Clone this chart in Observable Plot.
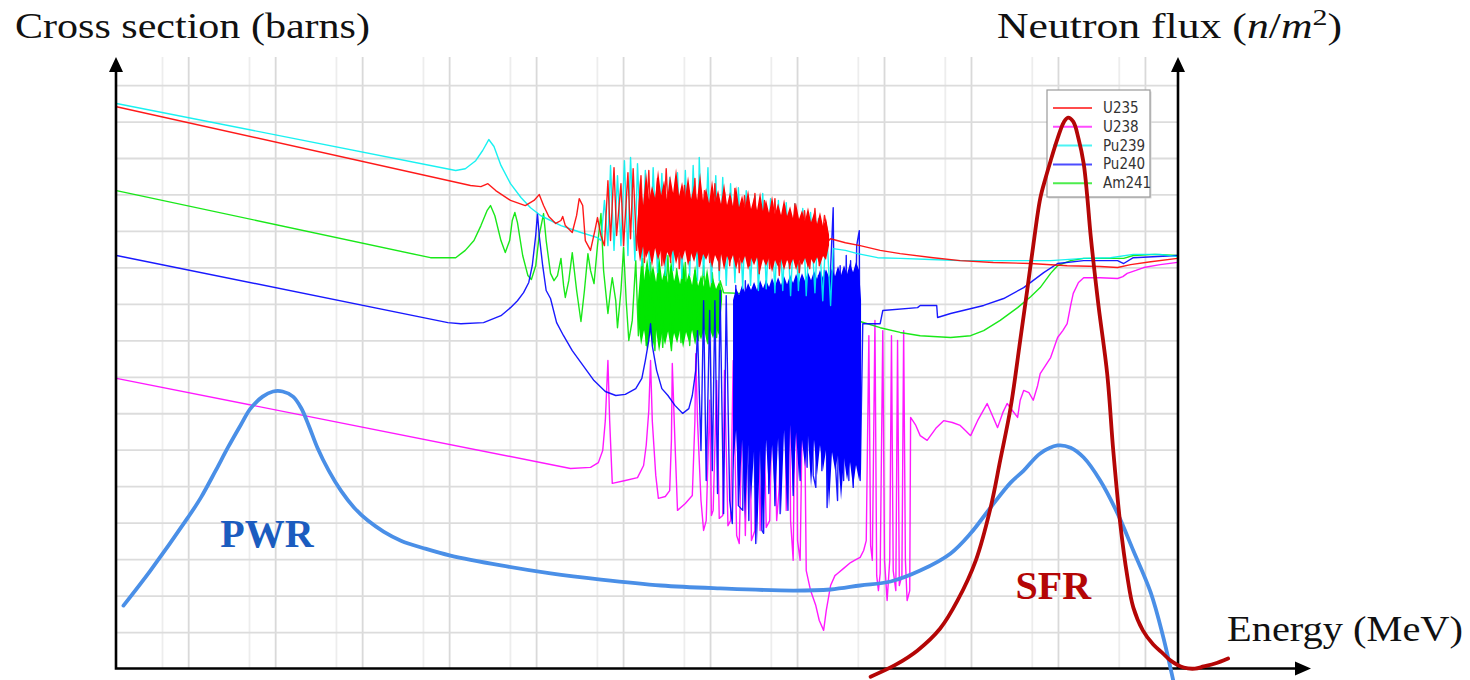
<!DOCTYPE html>
<html>
<head>
<meta charset="utf-8">
<script src="https://cdn.jsdelivr.net/npm/d3@7"></script>
<script src="https://cdn.jsdelivr.net/npm/@observablehq/plot@0.6"></script>
<style>
  html, body { margin: 0; padding: 0; background: #fff; }
  #chart svg { display: block; }
</style>
</head>
<body>
<div id="chart"></div>
<script>
// x values: log10(Energy / MeV); y values: relative cross-section / flux level (one unit per horizontal grid line)
const seriesNames = ["U235", "U238", "Pu239", "Pu240", "Am241"];

const u235 = [[-10.83,15.42],[-6.76,13.26],[-6.64,13.23],[-6.56,13.31],[-6.47,13.12],[-6.30,12.85],[-6.13,12.71],[-6.03,12.85],[-5.97,13.01],[-5.92,12.71],[-5.86,12.41],[-5.78,12.22],[-5.72,12.30],[-5.70,12.41],[-5.67,12.16],[-5.59,11.97],[-5.54,12.44],[-5.51,12.90],[-5.47,12.71],[-5.44,11.75],[-5.38,11.48],[-5.33,12.02],[-5.30,12.38],[-5.26,11.89],[-5.22,11.61],[-5.18,13.39],[-5.15,11.75],[-5.11,13.75],[-5.08,11.89],[-5.03,13.31],[-5.00,11.61],[-4.95,13.61],[-4.92,11.80],[-4.89,13.72],[-4.85,11.48],
[-4.80,13.53],[-4.76,11.15],[-4.71,13.67],[-4.67,11.26],[-4.61,13.45],[-4.56,11.06],[-4.51,13.72],[-4.46,11.15],[-4.40,13.39],[-4.36,10.98],[-4.30,13.26],[-4.24,11.20],[-4.18,13.45],[-4.13,11.04],[-4.07,13.12],[-4.01,11.15],[-3.95,13.31],[-3.90,10.93],[-3.84,13.07],[-3.78,11.06],[-3.72,13.18],[-3.67,10.87],[-3.61,12.98],[-3.55,11.06],[-3.49,13.04],[-3.44,10.84],[-3.38,12.85],[-3.32,10.98],[-3.26,12.90],[-3.21,10.79],[-3.15,12.71],[-3.09,10.98],[-3.03,12.76],[-2.98,10.87],[-2.92,12.57],[-2.86,10.98],[-2.80,12.63],[-2.75,11.06],[-2.69,12.44],[-2.64,11.75],
[-2.62,11.80],[-2.45,11.69],[-2.28,11.61],[-2.05,11.48],[-1.82,11.39],[-1.44,11.28],[-1.13,11.20],[-0.75,11.15],[-0.32,11.12],[0.10,11.06],[0.48,11.04],[0.68,11.01],[0.83,11.09],[1.06,11.17],[1.37,11.26]];
// resolved-resonance region: [logE, upper level, lower level]
const u235Band = [[-4.839,12.02,11.75],[-4.805,13.45,11.15],[-4.770,12.71,11.59],[-4.736,13.61,11.26],[-4.701,12.85,11.48],[-4.667,13.23,11.04],[-4.632,12.90,11.53],[-4.598,13.67,11.20],[-4.563,12.98,11.48],[-4.529,13.39,11.01],[-4.494,12.85,11.42],[-4.460,13.53,11.26],[-4.425,13.04,11.48],[-4.391,13.72,11.09],[-4.356,12.96,11.42],[-4.322,13.34,11.20],[-4.287,12.90,11.48],[-4.253,13.50,11.04],[-4.218,12.87,11.39],[-4.184,13.26,11.15],[-4.149,12.85,11.45],[-4.115,13.59,11.01],[-4.080,12.82,11.37],[-4.046,13.18,11.20],[-4.011,12.76,11.42],[-3.977,13.39,10.98],[-3.943,12.79,11.34],[-3.908,13.12,11.15],[-3.874,12.74,11.37],[-3.839,13.31,10.93],[-3.805,12.71,11.31],[-3.770,13.07,11.12],[-3.736,12.68,11.34],[-3.701,13.23,10.95],[-3.667,12.65,11.28],[-3.632,12.98,11.09],[-3.598,12.63,11.31],[-3.563,13.12,10.93],[-3.529,12.60,11.26],[-3.494,12.93,11.06],[-3.460,12.57,11.28],[-3.425,13.07,10.90],[-3.391,12.54,11.23],[-3.356,12.85,11.04],[-3.322,12.49,11.26],[-3.287,12.96,10.87],[-3.253,12.46,11.20],[-3.218,12.76,11.01],[-3.184,12.44,11.23],[-3.149,12.87,10.93],[-3.115,12.41,11.20],[-3.080,12.68,11.04],[-3.046,12.35,11.23],[-3.011,12.76,10.93],[-2.977,12.33,11.20],[-2.943,12.57,11.06],[-2.908,12.27,11.26],[-2.874,12.65,10.98],[-2.839,12.24,11.23],[-2.805,12.49,11.09],[-2.770,12.19,11.28],[-2.736,12.52,11.06],[-2.701,12.13,11.31],[-2.667,12.35,11.20],[-2.632,11.89,11.61]];

const pu239 = [[-10.83,15.51],[-6.93,13.67],[-6.82,13.72],[-6.70,13.94],[-6.62,14.22],[-6.55,14.52],[-6.49,14.33],[-6.41,13.81],[-6.30,13.31],[-6.18,12.93],[-6.07,12.65],[-5.95,12.43],[-5.72,12.16],[-5.49,11.97],[-5.30,11.83],
[-5.26,11.75],[-5.22,12.85],[-5.18,11.61],[-5.15,13.81],[-5.11,11.48],[-5.07,13.53],[-5.03,11.61],[-4.99,13.94],[-4.95,11.34],[-4.92,14.03],[-4.87,11.20],[-4.84,13.86],[-4.79,11.06],[-4.75,13.67],[-4.70,10.93],[-4.66,13.75],[-4.61,10.87],[-4.56,13.59],[-4.52,10.79],[-4.47,13.48],[-4.43,10.93],[-4.38,13.61],[-4.33,10.71],[-4.29,13.67],[-4.24,10.79],[-4.20,13.81],[-4.15,10.65],[-4.13,14.03],[-4.08,10.79],[-4.03,13.75],[-3.99,10.60],[-3.94,13.53],[-3.90,10.65],[-3.86,13.48],[-3.82,10.52],[-3.77,13.31],[-3.72,10.60],[-3.68,13.20],[-3.63,10.43],[-3.59,13.12],[-3.54,10.52],[-3.49,12.98],[-3.45,10.38],[-3.40,13.04],[-3.36,10.43],[-3.31,12.90],[-3.26,10.32],[-3.22,12.85],[-3.17,10.38],[-3.13,12.79],[-3.08,10.24],[-3.03,12.76],[-2.99,10.38],[-2.94,12.63],[-2.90,10.24],[-2.85,12.52],[-2.80,10.32],[-2.76,12.35],[-2.71,10.10],[-2.67,12.24],[-2.62,9.97],[-2.59,11.53],
[-2.45,11.48],[-2.31,11.39],[-2.08,11.28],[-1.82,11.26],[-1.47,11.23],[-1.13,11.20],[-0.67,11.20],[-0.09,11.20],[0.29,11.26],[0.60,11.28],[0.86,11.37],[1.17,11.37],[1.37,11.31]];

const am241 = [[-10.83,13.12],[-7.22,11.28],[-6.93,11.28],[-6.82,11.48],[-6.72,11.75],[-6.64,12.16],[-6.57,12.57],[-6.53,12.71],[-6.48,12.43],[-6.41,11.75],[-6.36,11.42],[-6.31,11.75],[-6.28,12.30],[-6.25,12.52],[-6.22,12.24],[-6.16,11.34],[-6.10,10.79],[-6.06,10.68],[-6.01,11.06],[-5.97,11.89],[-5.92,12.49],[-5.89,11.75],[-5.84,10.85],[-5.80,10.65],[-5.76,10.79],[-5.72,11.26],[-5.69,10.52],[-5.67,10.19],[-5.63,10.65],[-5.59,11.42],[-5.54,10.38],[-5.49,9.53],[-5.45,10.38],[-5.41,11.39],[-5.38,10.93],[-5.34,10.57],[-5.30,11.61],[-5.26,12.49],[-5.23,10.93],[-5.18,9.75],[-5.15,10.38],[-5.13,10.73],[-5.09,10.10],[-5.07,9.36],[-5.03,10.38],[-5.00,11.56],[-4.97,10.10],[-4.94,9.01],[-4.90,9.56],[-4.86,11.20],[-4.83,9.14],
[-4.78,11.26],[-4.74,8.87],[-4.69,11.15],[-4.64,8.73],[-4.60,11.06],[-4.55,8.82],[-4.49,11.34],[-4.45,8.73],[-4.39,10.98],[-4.34,8.95],[-4.29,11.15],[-4.24,8.87],[-4.18,10.93],[-4.14,9.01],[-4.08,11.06],[-4.03,8.92],[-3.98,10.87],[-3.93,9.09],[-3.89,10.65],[-3.85,10.32],
[-3.66,10.30],[-3.43,10.19],[-3.20,10.05],[-2.97,9.94],[-2.74,9.80],[-2.51,9.67],[-2.28,9.53],[-2.05,9.36],[-1.82,9.23],[-1.59,9.14],[-1.24,9.09],[-1.01,9.14],[-0.86,9.28],[-0.67,9.56],[-0.47,9.91],[-0.32,10.21],[-0.21,10.46],[-0.09,10.85],[-0.01,11.06],[0.14,11.20],[0.29,11.26],[0.75,11.26],[0.86,11.34],[1.11,11.37],[1.37,11.34]];
const am241Band = [[-4.828,10.10,9.56],[-4.793,11.15,8.87],[-4.759,10.65,9.28],[-4.724,11.26,8.73],[-4.690,10.71,9.23],[-4.655,11.06,8.82],[-4.621,10.60,9.28],[-4.586,11.34,8.68],[-4.552,10.65,9.20],[-4.517,10.98,8.87],[-4.483,10.57,9.25],[-4.448,11.20,8.73],[-4.414,10.63,9.20],[-4.379,10.93,8.92],[-4.345,10.54,9.28],[-4.310,11.15,8.79],[-4.276,10.57,9.23],[-4.241,10.87,8.95],[-4.207,10.52,9.28],[-4.172,11.06,8.87],[-4.138,10.49,9.25],[-4.103,10.79,9.01],[-4.069,10.46,9.31],[-4.034,10.98,8.90],[-4.000,10.43,9.28],[-3.966,10.71,9.06],[-3.931,10.41,9.34],[-3.897,10.60,9.14],[-3.862,10.35,10.10]];

const pu240 = [[-10.83,11.34],[-7.02,9.50],[-6.87,9.47],[-6.61,9.50],[-6.41,9.69],[-6.30,9.91],[-6.22,10.10],[-6.15,10.32],[-6.09,10.60],[-6.05,11.06],[-6.01,11.89],[-5.99,12.49],[-5.97,11.89],[-5.93,11.06],[-5.89,10.38],[-5.84,10.16],[-5.77,9.50],[-5.69,9.14],[-5.59,8.73],[-5.49,8.40],[-5.34,7.91],[-5.21,7.61],[-5.09,7.50],[-4.98,7.53],[-4.86,7.69],[-4.79,7.97],[-4.75,8.46],[-4.71,9.01],[-4.69,9.47],[-4.67,8.87],[-4.62,8.19],[-4.56,7.69],[-4.49,7.50],[-4.41,7.23],[-4.32,7.01],[-4.25,7.14],[-4.21,7.50],[-4.17,8.19],[-4.15,9.28],
[-4.11,5.99],[-4.08,10.10],[-4.05,5.17],[-4.01,9.83],[-3.98,5.44],[-3.95,10.10],[-3.92,4.81],[-3.89,10.38],[-3.85,4.26],[-3.82,10.24],[-3.78,4.62],[-3.75,3.99],[-3.71,10.52],[-3.68,4.48],[-3.63,4.35],[-3.60,10.65],[-3.56,4.07],[-3.53,10.38],[-3.48,3.44],[-3.45,10.52],[-3.41,3.80],[-3.39,3.72],[-3.36,10.65],[-3.33,4.81],[-3.30,10.38],[-3.26,4.48],[-3.23,10.52],[-3.20,4.26],[-3.16,10.65],[-3.11,4.35],[-3.08,10.38],[-3.05,4.76],[-3.00,10.71],[-2.97,5.17],[-2.93,10.52],[-2.89,5.53],[-2.85,10.65],[-2.82,5.31],[-2.79,4.98],[-2.76,10.79],[-2.72,5.44],[-2.69,10.93],[-2.66,4.43],[-2.62,10.98],[-2.59,12.65],[-2.56,5.44],[-2.54,4.62],[-2.51,11.06],[-2.47,5.17],[-2.44,11.34],[-2.41,5.17],[-2.39,11.20],[-2.36,4.98],[-2.32,11.61],[-2.29,12.02],[-2.28,5.17],[-2.25,9.47],
[-2.05,9.47],[-2.02,9.83],[-1.62,9.91],[-1.59,9.97],[-1.40,9.97],[-1.39,9.64],[-1.24,9.75],[-0.86,9.97],[-0.63,10.16],[-0.40,10.46],[-0.17,10.87],[-0.01,11.12],[0.29,11.20],[0.68,11.20],[0.75,11.12],[0.86,11.28],[1.37,11.34]];
const pu240Band = [[-3.736,10.10,5.44],[-3.701,10.43,6.54],[-3.667,10.24,4.48],[-3.632,10.52,6.27],[-3.598,10.32,4.07],[-3.563,10.57,6.13],[-3.529,10.38,4.62],[-3.494,10.60,5.99],[-3.460,10.38,3.44],[-3.425,10.65,6.05],[-3.391,10.43,3.72],[-3.356,10.65,6.27],[-3.322,10.46,4.81],[-3.287,10.71,6.13],[-3.253,10.49,4.48],[-3.218,10.73,6.32],[-3.184,10.52,4.26],[-3.149,10.76,6.54],[-3.115,10.54,4.35],[-3.080,10.79,6.68],[-3.046,10.57,4.76],[-3.011,10.82,6.48],[-2.977,10.60,5.17],[-2.943,10.84,6.27],[-2.908,10.63,5.53],[-2.874,10.87,6.40],[-2.839,10.65,4.98],[-2.805,10.90,6.27],[-2.770,10.68,5.31],[-2.736,10.93,6.13],[-2.701,10.71,5.44],[-2.667,10.95,5.99],[-2.632,10.73,4.43],[-2.598,10.98,5.94],[-2.563,10.76,5.44],[-2.529,11.04,5.85],[-2.494,10.79,4.62],[-2.460,11.06,5.77],[-2.425,10.82,5.17],[-2.391,11.12,5.66],[-2.356,10.87,4.98],[-2.322,11.15,5.58],[-2.287,10.93,5.17],[-2.264,10.10,5.44]];

const u238 = [[-10.83,7.97],[-5.61,5.50],[-5.38,5.53],[-5.29,5.66],[-5.24,5.99],[-5.21,6.81],[-5.18,8.46],[-5.16,6.81],[-5.13,5.09],[-4.98,5.17],[-4.84,5.25],[-4.77,5.58],[-4.74,6.13],[-4.71,7.09],[-4.69,8.46],[-4.67,6.81],[-4.63,5.31],[-4.60,4.68],[-4.52,4.73],[-4.47,4.89],[-4.45,6.27],[-4.44,8.38],[-4.41,6.27],[-4.38,4.35],[-4.29,4.54],[-4.21,4.76],[-4.18,6.81],[-4.17,8.65],[-4.15,6.81],[-4.11,4.62],[-4.08,3.80],
[-4.05,4.07],[-4.01,7.37],[-3.99,4.21],[-3.97,4.35],[-3.93,7.91],[-3.90,4.13],[-3.86,4.21],[-3.84,8.19],[-3.80,3.93],[-3.77,4.07],[-3.74,8.46],[-3.70,3.66],[-3.67,3.44],[-3.63,7.64],[-3.60,3.66],[-3.56,8.65],[-3.53,3.52],[-3.49,3.80],[-3.46,8.38],[-3.43,3.80],[-3.39,7.37],[-3.36,3.88],[-3.32,4.07],[-3.28,9.01],[-3.24,4.07],[-3.21,4.98],[-3.17,9.28],[-3.15,10.10],[-3.13,4.35],[-3.10,10.38],[-3.08,4.07],[-3.05,2.98],[-3.02,9.91],[-3.00,3.52],[-2.97,2.98],[-2.93,9.56],[-2.90,2.70],[-2.85,2.15],[-2.79,1.74],[-2.75,1.33],[-2.70,1.06],[-2.67,1.60],[-2.62,2.29],[-2.57,2.56],[-2.54,2.62],[-2.47,2.76],[-2.39,2.92],[-2.33,3.00],[-2.28,3.06],[-2.24,3.25],[-2.21,3.52],[-2.18,9.14],[-2.16,3.39],[-2.14,2.98],[-2.11,9.56],[-2.09,2.56],[-2.07,2.15],[-2.05,2.62],[-2.02,9.28],[-2.00,2.98],[-1.97,1.88],[-1.94,2.98],[-1.92,9.14],[-1.90,2.70],[-1.87,2.15],[-1.85,9.01],[-1.83,2.29],[-1.80,2.56],[-1.78,9.28],[-1.76,2.98],[-1.74,1.88],[-1.71,2.15],
[-1.70,6.90],[-1.64,6.68],[-1.59,6.40],[-1.51,6.27],[-1.41,6.60],[-1.32,6.81],[-1.22,6.76],[-1.13,6.68],[-1.07,6.54],[-1.01,6.40],[-0.93,6.81],[-0.82,7.28],[-0.76,6.95],[-0.70,6.62],[-0.64,7.03],[-0.59,7.28],[-0.53,7.09],[-0.47,6.90],[-0.44,7.37],[-0.40,7.64],[-0.34,7.58],[-0.29,7.37],[-0.24,7.77],[-0.21,8.10],[-0.15,8.32],[-0.09,8.54],[-0.01,9.09],[0.05,9.28],[0.10,9.47],[0.14,9.97],[0.17,10.30],[0.23,10.60],[0.29,10.73],[0.48,10.73],[0.68,10.71],[0.74,10.76],[0.79,10.85],[0.89,10.93],[0.98,11.01],[1.17,11.09],[1.37,11.15]];

// neutron flux spectra (right axis, same relative level units)
const pwrFlux = [[-10.75,1.74],[-10.44,2.70],[-10.01,4.15],[-9.86,4.70],[-9.69,5.44],[-9.55,6.07],[-9.40,6.70],[-9.29,7.14],[-9.15,7.47],[-9.03,7.61],[-8.92,7.61],[-8.80,7.47],[-8.71,7.17],[-8.62,6.68],[-8.52,6.07],[-8.39,5.44],[-8.25,4.89],[-8.10,4.43],[-7.94,4.07],[-7.76,3.77],[-7.56,3.52],[-7.28,3.30],[-6.99,3.11],[-6.41,2.84],[-5.84,2.62],[-5.26,2.45],[-4.57,2.29],[-3.89,2.21],[-3.05,2.15],[-2.62,2.18],[-2.28,2.29],[-1.93,2.40],[-1.59,2.70],[-1.24,3.17],[-1.01,3.72],[-0.78,4.43],[-0.55,5.11],[-0.40,5.44],[-0.21,5.91],[-0.01,6.13],[0.14,6.07],[0.29,5.80],[0.48,5.17],[0.68,4.26],[0.86,3.25],[1.06,2.10],[1.20,0.92],[1.32,-0.32]];
const sfrFlux = [[-2.16,-0.21],[-1.87,0.12],[-1.62,0.51],[-1.36,1.11],[-1.16,1.88],[-0.95,2.98],[-0.78,4.43],[-0.67,5.72],[-0.55,7.17],[-0.44,9.01],[-0.36,10.38],[-0.29,11.61],[-0.21,12.90],[-0.15,13.45],[-0.09,13.94],[-0.01,14.55],[0.06,14.99],[0.11,15.12],[0.17,15.01],[0.23,14.55],[0.29,13.86],[0.33,12.98],[0.37,11.89],[0.46,9.97],[0.56,8.10],[0.63,5.99],[0.71,3.99],[0.79,2.56],[0.86,1.69],[0.97,1.06],[1.09,0.67],[1.20,0.43],[1.29,0.23],[1.44,0.04],[1.57,0.01],[1.67,0.07],[1.80,0.15],[1.95,0.29]];

const fluxLabelNames = ["PWR", "SFR"];
const fluxLabelEnergy = [-9.10, -0.06];
const fluxLabelLevel = [3.70, 2.28];

// grid: decades (1e-10 ... 10 MeV), half-decade lines (5e-11 ... 5 MeV), level rows
const gridDecades = [-10, -9, -8, -7, -6, -5, -4, -3, -2, -1, 0, 1];
const gridFives = [-10.301, -9.301, -8.301, -7.301, -6.301, -5.301, -4.301, -3.301, -2.301, -1.301, -0.301, 0.699];
const gridRows = [1, 2, 3, 4, 5, 6, 7, 8, 9, 10, 11, 12, 13, 14, 15, 16];

// ---------- styles ----------
const colors = {U235: "#ff0000", U238: "#ff00ff", Pu239: "#00f0f0", Pu240: "#0000ff", Am241: "#00e600"};
const fluxColors = {PWR: "#4a8fe7", SFR: "#b40606"};
const labelColors = {PWR: "#1b5cbf", SFR: "#b40606"};
const serif = "'Liberation Serif', 'Times New Roman', serif";

const W = 1470, H = 680;

function frameDecor(index, scales, values, dims) {
  const L = dims.marginLeft, T = dims.marginTop;
  const R = dims.width - dims.marginRight, B = dims.height - dims.marginBottom;
  const g = d3.create("svg:g");
  g.append("path")
    .attr("d", `M${L},${B + 1.3}V${T + 10}M${R},${B + 1.3}V${T + 10}M${L - 1.3},${B}H${R + 122}`)
    .attr("stroke", "#000").attr("stroke-width", 2.6).attr("fill", "none");
  g.append("path")
    .attr("d", `M${L - 7},${T + 15}L${L},${T}L${L + 7},${T + 15}Z M${R - 7},${T + 15}L${R},${T}L${R + 7},${T + 15}Z M${R + 117},${B - 7}L${R + 133},${B}L${R + 117},${B + 7}Z`)
    .attr("fill", "#000");
  const title = (x, y, len) => g.append("text")
    .attr("x", x).attr("y", y)
    .attr("text-anchor", "start")
    .attr("textLength", len).attr("lengthAdjust", "spacingAndGlyphs")
    .attr("font-family", serif).attr("font-size", 35).attr("fill", "#111");
  title(L - 101, T - 19, 355).text("Cross section (barns)");
  const nf = title(R - 181, T - 19, 345);
  nf.append("tspan").text("Neutron flux (");
  nf.append("tspan").attr("font-style", "italic").text("n");
  nf.append("tspan").text("/");
  nf.append("tspan").attr("font-style", "italic").text("m");
  nf.append("tspan").attr("font-size", 24).attr("dy", -13).text("2");
  nf.append("tspan").attr("dy", 13).text(")");
  title(R + 49, B - 28, 236).text("Energy (MeV)");
  return g.node();
}

function legendDecor(index, scales, values, dims) {
  const R = dims.width - dims.marginRight, T = dims.marginTop;
  const x0 = R - 131, y0 = T + 33, w = 103, h = 107;
  const g = d3.create("svg:g");
  g.append("rect").attr("x", x0 + 1.5).attr("y", y0 + 1.5).attr("width", w).attr("height", h).attr("fill", "#d8d8d8");
  g.append("rect").attr("x", x0).attr("y", y0).attr("width", w).attr("height", h)
    .attr("fill", "#fff").attr("stroke", "#9a9a9a").attr("stroke-width", 1.2);
  seriesNames.forEach((name, i) => {
    const y = y0 + 18 + i * 18.8;
    g.append("line").attr("x1", x0 + 6).attr("x2", x0 + 45).attr("y1", y).attr("y2", y)
      .attr("stroke", colors[name]).attr("stroke-opacity", 0.7).attr("stroke-width", 2);
    g.append("text").attr("x", x0 + 56).attr("y", y + 5).attr("text-anchor", "start")
      .attr("font-family", "'Liberation Sans Narrow', 'Arial Narrow', 'DejaVu Sans Condensed', sans-serif")
      .attr("font-size", 15).attr("fill", "#333").text(name);
  });
  return g.node();
}

const X = d => d[0], Y = d => d[1], Top = d => d[1], Bottom = d => d[2];
const xsLine = (data, name) => Plot.line(data, {x: X, y: Y, stroke: colors[name], strokeWidth: 1.4, strokeOpacity: 0.9});
const xsBand = (data, name) => Plot.areaY(data, {x: X, y1: Bottom, y2: Top, fill: colors[name]});

const labelRows = fluxLabelNames.map((name, i) => ({name, e: fluxLabelEnergy[i], level: fluxLabelLevel[i]}));

const chart = Plot.plot({
  width: W,
  height: H,
  marginLeft: 116,
  marginRight: 292,
  marginTop: 57,
  marginBottom: 11.5,
  style: {background: "#fff", overflow: "visible"},
  x: {type: "linear", domain: [-10.83, 1.38], axis: null},
  y: {type: "linear", domain: [0, 16.77], axis: null},
  marks: [
    Plot.ruleX(gridFives, {stroke: "#ededed", strokeWidth: 1.8}),
    Plot.ruleX(gridDecades, {stroke: "#d9d9d9", strokeWidth: 1.8}),
    Plot.ruleY(gridRows, {stroke: "#dcdcdc", strokeWidth: 1.8}),
    xsLine(u238, "U238"),
    xsBand(am241Band, "Am241"),
    xsLine(am241, "Am241"),
    xsBand(pu240Band, "Pu240"),
    xsLine(pu240, "Pu240"),
    xsLine(pu239, "Pu239"),
    xsBand(u235Band, "U235"),
    xsLine(u235, "U235"),
    frameDecor,
    legendDecor,
    ...labelRows.map(d => Plot.text([d], {x: "e", y: "level", text: "name", fill: labelColors[d.name], fontSize: 40, fontWeight: "bold", fontFamily: serif})),
    Plot.line(pwrFlux, {x: X, y: Y, stroke: fluxColors.PWR, strokeWidth: 3.8, curve: "catmull-rom"}),
    Plot.line(sfrFlux, {x: X, y: Y, stroke: fluxColors.SFR, strokeWidth: 3.8, curve: "catmull-rom"})
  ]
});
document.getElementById("chart").appendChild(chart);
</script>
</body>
</html>
